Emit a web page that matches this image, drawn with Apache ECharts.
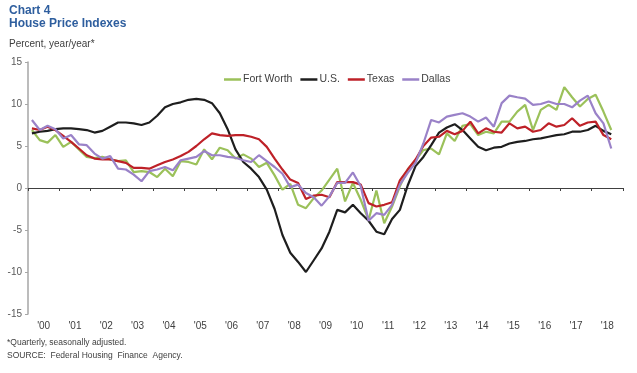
<!DOCTYPE html>
<html>
<head>
<meta charset="utf-8">
<script src="https://cdn.jsdelivr.net/npm/echarts@6/dist/echarts.min.js"></script>
<style>
html,body{margin:0;padding:0;background:#fff;}
#chart{width:637px;height:373px;}
</style>
</head>
<body>
<div id="chart"></div>
<script>
// Year tick labels (one band per year, quarterly data inside)
const yearLabels = ["'00","'01","'02","'03","'04","'05","'06","'07","'08","'09","'10","'11","'12","'13","'14","'15","'16","'17","'18"];
const quarterNames = ['Q1','Q2','Q3','Q4'];

// Quarterly year/year % change, 2000Q1 - 2018Q3
const fortWorth = [6.9,5.7,5.4,6.3, 4.9,5.5,4.6,3.7, 3.55,3.7,3.4,3.2, 3.3,1.9,2.0,1.9, 1.3,2.3,1.4,3.2,
  3.1,2.8,4.6,3.4, 4.8,4.5,3.5,4.0, 3.5,2.5,3.0,1.5, -0.2,0.5,-2.0,-2.4, -1.2,-0.3,1.0,2.3,
  -1.6,0.6,-1.4,-3.8, -0.3,-4.2,-2.2,0.2, 2.2,3.3,4.5,4.7, 4.0,6.5,5.6,7.4, 7.6,6.3,6.7,6.5,
  7.9,7.9,9.1,9.9, 6.9,9.3,9.9,9.3, 12.0,10.8,9.7,10.6, 11.1,9.1,6.9];
const us = [6.5,6.7,6.8,7.0, 7.1,7.1,7.0,6.9, 6.6,6.8,7.3,7.8, 7.8,7.7,7.5,7.8, 8.6,9.6,10.0,10.2,
  10.5,10.6,10.5,10.1, 8.9,7.0,4.6,3.1, 2.3,1.3,-0.2,-2.5, -5.6,-7.7,-8.8,-10.0, -8.6,-7.2,-5.2,-2.6,
  -2.9,-2.0,-3.0,-3.9, -5.2,-5.5,-3.7,-2.6, 0.3,2.6,3.7,5.1, 6.6,7.2,7.6,6.9, 5.9,4.9,4.5,4.8,
  4.9,5.3,5.5,5.6, 5.8,5.9,6.1,6.3, 6.4,6.7,6.7,6.9, 7.4,6.8,6.4];
const texas = [7.1,6.9,7.3,6.9, 6.2,5.5,4.7,3.9, 3.5,3.4,3.4,3.2, 3.0,2.4,2.4,2.3, 2.7,3.1,3.4,3.8,
  4.3,5.0,5.8,6.5, 6.3,6.2,6.3,6.3, 6.1,5.8,4.9,3.5, 2.2,1.0,0.6,-1.3, -0.9,-0.8,-1.1,0.7,
  0.7,0.7,0.4,-1.8, -2.2,-2.0,-1.7,0.9, 2.2,3.4,5.0,6.0, 6.1,6.8,6.4,6.8, 7.9,6.5,7.1,6.7,
  6.6,7.7,7.1,7.3, 6.7,6.9,7.7,7.3, 7.5,8.3,7.4,7.8, 7.9,6.3,5.8];
const dallas = [8.1,6.9,7.4,7.0, 5.9,6.3,5.2,5.1, 4.1,3.5,3.8,2.3, 2.2,1.6,0.8,2.0, 2.2,2.5,2.1,3.3,
  3.5,3.7,4.4,3.9, 3.9,3.7,3.6,3.3, 3.1,3.9,3.2,2.5, 1.7,0.1,0.4,-0.6, -1.1,-2.1,-1.0,0.6,
  0.6,1.85,0.2,-3.9, -3.0,-3.2,-2.0,0.4, 1.8,3.0,5.3,8.1, 7.8,8.5,8.7,8.9, 8.5,7.9,8.4,7.3,
  10.1,11.0,10.8,10.65, 9.9,10.0,10.3,10.0, 10.0,9.6,10.4,11.0, 8.9,7.7,4.7];

const seriesNames = ['Fort Worth','U.S.','Texas','Dallas'];
const seriesColors = ['#9BC15A','#1E1E1E','#BE2128','#9A82C8'];
const seriesData = [fortWorth, us, texas, dallas];

const quarters = [];
yearLabels.forEach(y => quarterNames.forEach(q => quarters.push(y + q)));

const FONT = '"Liberation Sans", Arial, sans-serif';
const chart = echarts.init(document.getElementById('chart'), null, {renderer:'canvas'});

chart.setOption({
  animation: false,
  backgroundColor: '#ffffff',
  grid: {left: 28, right: 14, top: 62, bottom: 59, containLabel: false},
  legend: {
    data: seriesNames,
    top: 69, left: 219,
    icon: 'rect', itemWidth: 17, itemHeight: 2.5, itemGap: 8,
    textStyle: {fontFamily: FONT, fontSize: 10.5, color: '#404040', padding: [0,0,0,-3]},
  },
  xAxis: [
    {
      type: 'category', data: quarters, boundaryGap: true,
      axisLine: {onZero: true, lineStyle: {color: '#404040', width: 1}},
      axisTick: {show: true, interval: 3, length: 3, lineStyle: {color: '#404040'}},
      axisLabel: {show: false}, splitLine: {show: false}
    },
    {
      type: 'category', data: yearLabels, boundaryGap: true, position: 'bottom',
      axisLine: {show: false, onZero: false}, axisTick: {show: false},
      axisLabel: {fontFamily: FONT, fontSize: 10, color: '#404040', margin: 7},
      splitLine: {show: false}
    }
  ],
  yAxis: {
    type: 'value', min: -15, max: 15, interval: 5,
    axisLine: {show: true, lineStyle: {color: '#A6A6A6', width: 1.5}},
    axisTick: {show: true, length: 3, lineStyle: {color: '#A6A6A6'}},
    axisLabel: {fontFamily: FONT, fontSize: 10, color: '#595959', margin: 6},
    splitLine: {show: false}
  },
  series: seriesNames.map((n, k) => ({
    name: n, type: 'line', xAxisIndex: 0, data: seriesData[k],
    symbol: 'none', smooth: false,
    lineStyle: {color: seriesColors[k], width: 2.2},
    itemStyle: {color: seriesColors[k]}
  })),
  graphic: [
    {type:'text', left: 9, top: 5, style:{text:'Chart 4', fontFamily: FONT, fontSize: 12, fontWeight:'bold', fill:'#2E5E9E'}},
    {type:'text', left: 9, top: 18, style:{text:'House Price Indexes', fontFamily: FONT, fontSize: 12, fontWeight:'bold', fill:'#2E5E9E'}},
    {type:'text', left: 9, top: 39, style:{text:'Percent, year/year*', fontFamily: FONT, fontSize: 10, fill:'#404040'}},
    {type:'text', left: 7, top: 338, style:{text:'*Quarterly, seasonally adjusted.', fontFamily: FONT, fontSize: 8.5, fill:'#404040'}},
    {type:'text', left: 7, top: 351, style:{text:'SOURCE:  Federal Housing  Finance  Agency.', fontFamily: FONT, fontSize: 8.5, fill:'#404040'}}
  ]
});
</script>
</body>
</html>
